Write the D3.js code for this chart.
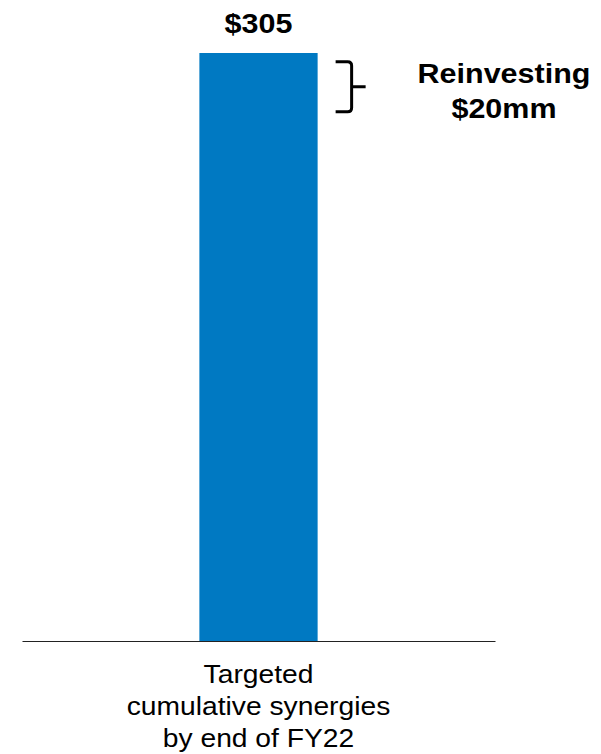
<!DOCTYPE html>
<html>
<head>
<meta charset="utf-8">
<script src="https://cdn.jsdelivr.net/npm/d3@7"></script>
<style>
  html, body { margin: 0; padding: 0; background: #fff; }
  svg { display: block; }
  text { font-family: "Liberation Sans", Arial, Helvetica, sans-serif; fill: #000; }
</style>
</head>
<body>
<svg id="chart" width="601" height="754"></svg>
<script>
// Synergy target (US$ mm)
const categories = ["Targeted cumulative synergies by end of FY22"];
const categoryLines = [["Targeted", "cumulative synergies", "by end of FY22"]];
const values = [305];
const valueLabels = ["$305"];
const reinvestLabel = ["Reinvesting", "$20mm"];
const reinvestSpan = [300.5, 274.5]; // value range marked by the brace

const width = 601, height = 754;
const margin = { left: 22, right: 106, top: 53, bottom: 113 };
const baseline = height - margin.bottom;

const svg = d3.select("#chart");

const x = d3.scaleBand()
  .domain(categories)
  .range([margin.left, width - margin.right])
  .padding(0.6);

const y = d3.scaleLinear()
  .domain([0, d3.max(values)])
  .range([baseline, margin.top]);

const stretch = 1.13;

// bar
svg.selectAll("rect.bar")
  .data(values)
  .join("rect")
  .attr("class", "bar")
  .attr("x", (d, i) => x(categories[i]))
  .attr("y", d => y(d))
  .attr("width", x.bandwidth())
  .attr("height", d => y(0) - y(d))
  .attr("fill", "#0079C2");

// baseline axis
const axis = svg.append("g")
  .attr("transform", `translate(0,${baseline})`)
  .call(d3.axisBottom(x).tickSize(0).tickFormat(""));
axis.select(".domain").attr("stroke", "#222").attr("stroke-width", 1.2);

// category labels
categories.forEach((c, i) => {
  const cx = x(c) + x.bandwidth() / 2;
  const g = svg.append("g")
    .attr("transform", `translate(${cx},${baseline + 42}) scale(${stretch},1)`);
  g.selectAll("text")
    .data(categoryLines[i])
    .join("text")
    .attr("text-anchor", "middle")
    .attr("y", (d, j) => j * 32)
    .style("font-size", "25px")
    .text(d => d);
});

// value labels
values.forEach((v, i) => {
  const cx = x(categories[i]) + x.bandwidth() / 2;
  svg.append("text")
    .attr("transform", `translate(${cx},${y(v) - 20}) scale(${stretch},1)`)
    .attr("text-anchor", "middle")
    .style("font-size", "27px")
    .style("font-weight", "bold")
    .text(valueLabels[i]);
});

// brace for the reinvested amount
const bx0 = x(categories[0]) + x.bandwidth() + 18;
const bx1 = bx0 + 16;
const by0 = y(reinvestSpan[0]);
const by1 = y(reinvestSpan[1]);
const bmid = (by0 + by1) / 2;
const r = 4;
const brace = d3.path();
brace.moveTo(bx0, by0);
brace.lineTo(bx1 - r, by0);
brace.quadraticCurveTo(bx1, by0, bx1, by0 + r);
brace.lineTo(bx1, by1 - r);
brace.quadraticCurveTo(bx1, by1, bx1 - r, by1);
brace.lineTo(bx0, by1);
brace.moveTo(bx1, bmid);
brace.lineTo(bx1 + 14, bmid);
svg.append("path")
  .attr("d", brace.toString())
  .attr("fill", "none")
  .attr("stroke", "#000")
  .attr("stroke-width", 3);

// brace annotation
const ag = svg.append("g")
  .attr("transform", `translate(504,${bmid - 4}) scale(${stretch},1)`);
ag.selectAll("text")
  .data(reinvestLabel)
  .join("text")
  .attr("text-anchor", "middle")
  .attr("y", (d, j) => j * 35)
  .style("font-size", "27px")
  .style("font-weight", "bold")
  .text(d => d);
</script>
</body>
</html>
